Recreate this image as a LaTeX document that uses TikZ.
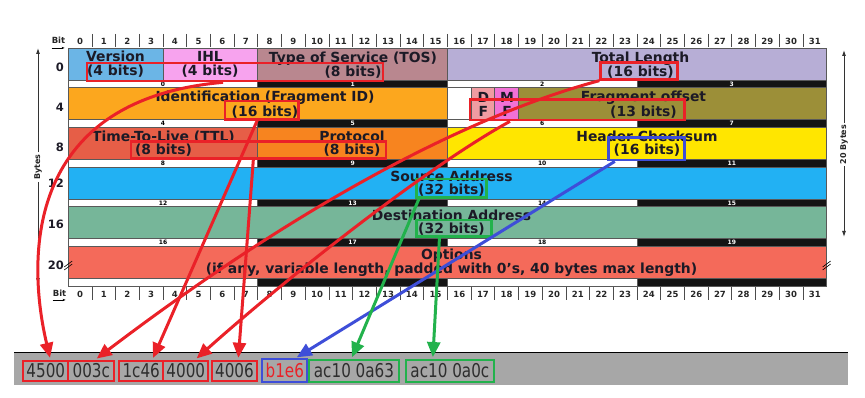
\documentclass[tikz,border=0pt]{standalone}
\usepackage{fontspec}
\setmainfont{DejaVu Sans}
\newfontfamily\hexfont[FakeStretch=0.8]{DejaVu Sans}
\usetikzlibrary{arrows.meta,calc}

\definecolor{verblue}{HTML}{6BB5E6}
\definecolor{ihlpink}{HTML}{F7A3EE}
\definecolor{tosmauve}{HTML}{B9878F}
\definecolor{lenlilac}{HTML}{B7AED6}
\definecolor{idorange}{HTML}{FCA71E}
\definecolor{dfpink}{HTML}{F09CA2}
\definecolor{mfpink}{HTML}{F271D6}
\definecolor{offolive}{HTML}{9C8F38}
\definecolor{ttlred}{HTML}{E65E47}
\definecolor{protorange}{HTML}{F7841F}
\definecolor{sumyellow}{HTML}{FFE600}
\definecolor{srcblue}{HTML}{22B1F3}
\definecolor{dstgreen}{HTML}{76B699}
\definecolor{optred}{HTML}{F46A5A}
\definecolor{markred}{HTML}{EA2128}
\definecolor{markblue}{HTML}{3E4ED8}
\definecolor{markgreen}{HTML}{22B24C}
\definecolor{barfill}{HTML}{A7A7A7}
\definecolor{inkdark}{HTML}{1C1A26}

\tikzset{
  cell/.style={draw=black!65, line width=0.7pt},
  flabel/.style={font=\fontsize{13.9}{13.5}\selectfont\bfseries, text=inkdark, align=center, inner sep=0pt},
  rulenum/.style={font=\fontsize{8.5}{9}\selectfont\bfseries, text=black!85, inner sep=0pt},
  bytenum/.style={font=\fontsize{6}{6}\selectfont\bfseries, inner sep=0pt},
  offnum/.style={font=\fontsize{11.5}{12}\selectfont\bfseries, text=inkdark, anchor=east, inner sep=0pt},
  axislbl/.style={font=\fontsize{8}{8}\selectfont\bfseries, text=black!85, rotate=90, inner sep=2pt},
  axisarrow/.style={draw=black!80, line width=0.9pt, -{Latex[length=6pt,width=4pt]}},
  tick/.style={draw=black!70, line width=0.8pt},
  hibox/.style={draw=#1, line width=2.7pt, inner sep=0pt},
  hexval/.style={draw=#1, line width=1.8pt, font=\hexfont\fontsize{19}{19}\selectfont, text=black!82, minimum height=20.3pt, inner sep=0pt},
  pointer/.style={draw=#1, line width=3pt, -{Triangle[length=15pt,width=13pt]}, shorten >=2pt}
}

\begin{document}
\begin{tikzpicture}[x=1pt,y=-1pt]
\useasboundingbox (0,0) rectangle (865,398);
\def\xo{68.2}
\def\cw{23.7}

\foreach \a/\b/\r/\c in {0/4/0/verblue,4/8/0/ihlpink,8/16/0/tosmauve,16/32/0/lenlilac,
    0/16/1/idorange,16/17/1/white,17/18/1/dfpink,18/19/1/mfpink,19/32/1/offolive,
    0/8/2/ttlred,8/16/2/protorange,16/32/2/sumyellow,
    0/32/3/srcblue,0/32/4/dstgreen,0/32/5/optred}
  \filldraw[cell,fill=\c] ({\xo+\cw*\a},{48+39.7*\r}) rectangle ({\xo+\cw*\b},{80+39.7*\r});

\foreach \r in {0,...,5}{
  \foreach \bt in {0,...,3}{
    \ifodd\bt \def\stripfill{black!92}\def\striptext{white}\else \def\stripfill{white}\def\striptext{black}\fi
    \filldraw[cell,fill=\stripfill] ({\xo+\cw*8*\bt},{80+39.7*\r}) rectangle ({\xo+\cw*8*(\bt+1)},{87.7+39.7*\r});
    \ifnum\r<5
      \pgfmathtruncatemacro\bnum{4*\r+\bt}
      \node[bytenum,text=\striptext] (s\bnum) at ({\xo+\cw*(8*\bt+4)},{83.9+39.7*\r}) {\bnum};
    \fi
  }
}

\foreach \k in {0,...,31}{
  \node[rulenum] (t\k) at ({\xo+\cw*(\k+0.5)},41) {\k};
  \node[rulenum] (b\k) at ({\xo+\cw*(\k+0.5)},294) {\k};
}
\foreach \k in {1,...,31}{
  \draw[tick] ({\xo+\cw*\k},34) -- ++(0,13);
  \draw[tick] ({\xo+\cw*\k},287) -- ++(0,13);
}
\node[rulenum] (bittop) at (58.5,40.5) {Bit};
\node[rulenum] (bitbot) at (59.5,293.5) {Bit};
\draw[line width=0.7pt,-{Stealth[length=3pt]}] ([yshift=-4pt]bittop.south west) -- ++(13,0);
\draw[line width=0.7pt,-{Stealth[length=3pt]}] ([yshift=-3pt]bitbot.south west) -- ++(13,0);

\foreach \v/\y in {0/67.3,4/107.7,8/147.3,12/183.3,16/224,20/265}
  \node[offnum] (off\v) at (64,\y) {\v};
\foreach \x in {68.2,826.6}
  \draw[line width=0.6pt] (\x-4,267) -- (\x+4,261) (\x-4,270) -- (\x+4,264);

\node[axislbl] (bytesl) at (38,167) {Bytes};
\coordinate (ltop) at (38,48);
\coordinate (lbot) at (38,284);
\draw[axisarrow] (bytesl.east) -- (ltop);
\draw[axisarrow] (bytesl.west) -- (lbot);
\node[axislbl] (bytesr) at (844,144.5) {20 Bytes};
\coordinate (rtop) at (844,50);
\coordinate (rbot) at (844,237);
\draw[axisarrow] (bytesr.east) -- (rtop);
\draw[axisarrow] (bytesr.west) -- (rbot);

\node[flabel] (ver) at (115.5,64.3) {Version\\(4 bits)};
\node[flabel] (ihl) at (210,64.3) {IHL\\(4 bits)};
\node[flabel] (tos) at (353,65) {Type of Service (TOS)\\(8 bits)};
\node[flabel] (tlen) at (640.5,65) {Total Length\\(16 bits)};
\node[flabel] (ident) at (265,104.5) {Identification (Fragment ID)\\(16 bits)};
\node[flabel] (df) at (483.4,104.5) {D\\F};
\node[flabel] (mf) at (507,104.5) {M\\F};
\node[flabel] (foff) at (643.5,104.5) {Fragment offset\\(13 bits)};
\node[flabel] (ttl) at (163.5,143.5) {Time-To-Live (TTL)\\(8 bits)};
\node[flabel] (proto) at (352,143.5) {Protocol\\(8 bits)};
\node[flabel] (csum) at (647,143.5) {Header Checksum\\(16 bits)};
\node[flabel] (src) at (451.5,183.7) {Source Address\\(32 bits)};
\node[flabel] (dst) at (451.5,222.7) {Destination Address\\(32 bits)};
\node[flabel] (opt) at (451.5,262.5) {Options\\(if any, variable length, padded with 0's, 40 bytes max length)};

\node[hibox=markred, minimum width=296pt, minimum height=18pt] (hbA) at (235,72) {};
\node[hibox=markred, minimum width=76.6pt, minimum height=17pt] (hbB) at (639,70.8) {};
\node[hibox=markred, minimum width=73.3pt, minimum height=18.3pt] (hbC) at (261.7,110.2) {};
\node[hibox=markred, minimum width=214.3pt, minimum height=20.7pt] (hbD) at (577.2,109.7) {};
\node[hibox=markred, minimum width=255pt, minimum height=16.6pt] (hbE) at (258.5,150) {};
\node[hibox=markblue, minimum width=76pt, minimum height=22.3pt] (hbF) at (646.3,148.9) {};
\node[hibox=markgreen, minimum width=70pt, minimum height=18.3pt] (hbG) at (451.7,188.2) {};
\node[hibox=markgreen, minimum width=75pt, minimum height=16.7pt] (hbH) at (454.2,228.4) {};

\fill[barfill] (14,352) rectangle (848,385);
\draw[line width=1pt] (14,352) -- (848,352);

\node[hexval=markred, minimum width=45pt] (h4500) at (45.8,370.8) {4500};
\node[hexval=markred, minimum width=46pt] (h003c) at (91.3,370.8) {003c};
\node[hexval=markred, minimum width=44.3pt] (h1c46) at (141.2,370.8) {1c46};
\node[hexval=markred, minimum width=45pt] (h4000) at (185.8,370.8) {4000};
\node[hexval=markred, minimum width=44.4pt] (h4006) at (234.5,370.8) {4006};
\node[hexval=markblue, text=markred, minimum width=45pt, minimum height=22.4pt] (hb1e6) at (284.8,370.5) {b1e6};
\node[hexval=markgreen, minimum width=90pt, minimum height=21.7pt] (ha63) at (354,370.8) {ac10 0a63};
\node[hexval=markgreen, minimum width=88.3pt, minimum height=21.7pt] (ha0c) at (449.9,370.8) {ac10 0a0c};

\draw[pointer=markred] ($(hbA.south west)!0.46!(hbA.south east)$) .. controls (20,100) and (28,265) .. ($(h4500.north west)!0.6!(h4500.north east)$);
\draw[pointer=markred] (hbB.south west) .. controls (460,118) and (290,212) .. ($(h003c.north west)!0.58!(h003c.north east)$);
\draw[pointer=markred] ($(hbC.south west)!0.44!(hbC.south east)$) -- ($(h1c46.north west)!0.74!(h1c46.north east)$);
\draw[pointer=markred] ($(hbD.south west)!0.19!(hbD.south east)$) .. controls (430,165) and (290,275) .. ($(h4000.north west)!0.7!(h4000.north east)$);
\draw[pointer=markred] ($(hbE.south west)!0.48!(hbE.south east)$) -- ($(h4006.north west)!0.58!(h4006.north east)$);
\draw[pointer=markblue] ($(hbF.south west)!0.1!(hbF.south east)$) -- ($(hb1e6.north west)!0.72!(hb1e6.north east)$);
\draw[pointer=markgreen] ($(hbG.south west)!0.05!(hbG.south east)$) -- ($(ha63.north west)!0.47!(ha63.north east)$);
\draw[pointer=markgreen] ($(hbH.south west)!0.31!(hbH.south east)$) -- ($(ha0c.north west)!0.31!(ha0c.north east)$);
\end{tikzpicture}
\end{document}
